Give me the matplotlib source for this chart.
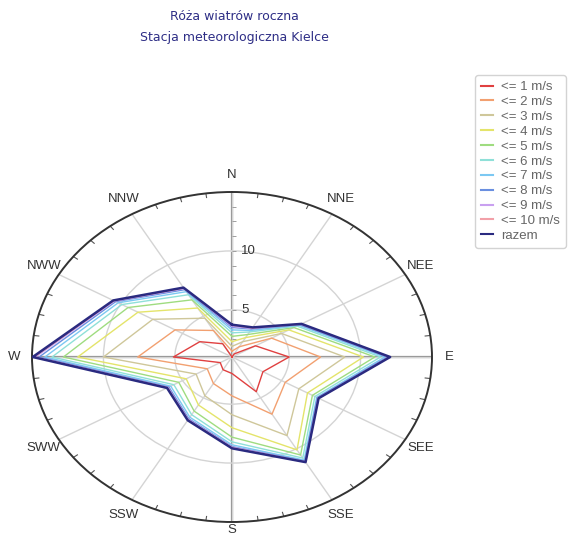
import matplotlib
matplotlib.use('Agg')
import matplotlib.pyplot as plt
import matplotlib.transforms as mtransforms
from matplotlib.lines import Line2D
import numpy as np

# kierunki co 30 stopni, od N zgodnie z ruchem wskazowek zegara
kierunki = ['N', 'NNE', 'NEE', 'E', 'SEE', 'SSE', 'S', 'SSW', 'SWW', 'W', 'NWW', 'NNW']
katy = [0, 30, 60, 90, 120, 150, 180, 210, 240, 270, 300, 330]

etykiety = ['<= 1 m/s', '<= 2 m/s', '<= 3 m/s', '<= 4 m/s', '<= 5 m/s',
            '<= 6 m/s', '<= 7 m/s', '<= 8 m/s', '<= 9 m/s', '<= 10 m/s', 'razem']

# wartosci (kolejnosc jak w "kierunki")
v1 = [1.0, 1.3, 2.9, 5.0, 3.5, 4.4, 2.4, 2.25, 1.95, 5.1, 3.6, 2.3]
v2 = [1.5, 2.0, 4.2, 7.2, 5.3, 6.6, 4.3, 3.6, 3.0, 7.6, 5.6, 3.6]
v3 = [1.9, 2.5, 5.0, 8.9, 6.4, 8.7, 5.9, 4.8, 3.9, 10.0, 7.4, 4.8]
v4 = [2.3, 2.9, 5.6, 10.2, 7.1, 10.1, 7.0, 5.7, 4.7, 11.8, 8.6, 5.8]
v5 = [2.75, 3.2, 6.0, 11.0, 7.5, 10.6, 7.8, 6.3, 5.3, 12.8, 9.4, 6.6]
v6 = [3.05, 3.45, 6.25, 11.4, 7.7, 10.9, 8.2, 6.65, 5.7, 13.6, 9.9, 7.1]
v7 = [3.3, 3.6, 6.4, 11.7, 7.85, 11.1, 8.45, 6.9, 5.95, 14.1, 10.2, 7.4]
v8 = [3.5, 3.75, 6.5, 11.9, 7.9, 11.2, 8.6, 7.05, 6.1, 14.5, 10.4, 7.6]
v9 = [3.6, 3.8, 6.55, 12.0, 7.95, 11.25, 8.65, 7.12, 6.17, 14.75, 10.5, 7.7]
v10 = [3.7, 3.85, 6.6, 12.05, 8.0, 11.3, 8.7, 7.17, 6.22, 14.85, 10.55, 7.75]
razem = [3.74, 3.9, 6.62, 12.07, 8.0, 11.3, 8.75, 7.2, 6.25, 14.95, 10.6, 7.8]

serie = [v1, v2, v3, v4, v5, v6, v7, v8, v9, v10, razem]
kolory = ['#e04040', '#f2a070', '#cfc79a', '#e4e46a', '#9fdc80',
          '#8fe0d8', '#7cc8f2', '#6a8fe0', '#c9a0f0', '#f2a0a8', '#2a2a80']
grubosci = [1.0] * 10 + [1.8]

fig = plt.figure(figsize=(5.76, 5.38), dpi=100)
ax = fig.add_axes([32 / 576, 16 / 538, 400 / 576, 330 / 538], projection='polar')
ax.set_theta_zero_location('N')
ax.set_theta_direction(-1)
ax.set_aspect('auto')
ax.set_ylim(1, 15)

# siatka (etykieta S osobno, zeby nie wypadla za dolna krawedz)
ax.set_thetagrids(katy, [k if k != 'S' else '' for k in kierunki],
                  fontsize=9.5, color='#333333', family='Liberation Sans')
ax.tick_params(axis='x', pad=2)
ax.set_rgrids([5, 10, 15], labels=['', '', ''])
ax.xaxis.grid(True, color='#d4d4d4', lw=1.0)
ax.yaxis.grid(True, color='#d4d4d4', lw=1.0)
ax.spines['polar'].set_color('#333333')
ax.spines['polar'].set_linewidth(1.4)

off_s = mtransforms.offset_copy(ax.transData, fig=fig, x=0, y=-2, units='dots')
ax.text(np.pi, 15, 'S', transform=off_s, ha='center', va='top',
        fontsize=9.5, color='#333333', family='Liberation Sans')

# glowne osie N-S i E-W
for k in [0, 90, 180, 270]:
    ax.plot([np.radians(k)] * 2, [1, 15], color='#8c8c8c', lw=1.6, zorder=1)

# drobne znaczniki na obwodzie
male = [np.radians(a) for a in np.arange(0, 360, 7.5) if a % 30 != 0]
ax.vlines(male, 14.6, 15, color='#555555', lw=0.8)
# znaczniki na osi N
rt = np.arange(2.5, 15, 1.25)
ax.plot(np.zeros(len(rt)), rt, ls='none', marker=1,
        ms=3, color='#a0a0a0', mew=0.7)

# etykiety promienia
off = mtransforms.offset_copy(ax.transData, fig=fig, x=9, y=0, units='dots')
for r in [5, 10]:
    ax.text(0, r, str(r), transform=off, ha='left', va='center',
            fontsize=9.5, color='#333333', family='Liberation Sans')

# serie
th = np.radians(katy + [katy[0]])
for vals, col, lw, lab in zip(serie, kolory, grubosci, etykiety):
    ax.plot(th, vals + [vals[0]], color=col, lw=lw, label=lab, zorder=3)

ax.set_yticklabels([])

fig.text(234 / 576, 1 - 17 / 538, 'Róża wiatrów roczna', ha='center', va='center',
         fontsize=9, color='#2e2e86')
fig.text(234 / 576, 1 - 38 / 538, 'Stacja meteorologiczna Kielce', ha='center', va='center',
         fontsize=9, color='#2e2e86')

uchwyty = [Line2D([0], [0], color=c, lw=1.5) for c in kolory]
leg = fig.legend(uchwyty, etykiety, loc='upper left',
                 bbox_to_anchor=(475 / 576, 1 - 75 / 538),
                 frameon=True, fancybox=True, edgecolor='#c8c8c8',
                 handlelength=0.9, handletextpad=0.6, labelspacing=0.2,
                 borderpad=0.45, borderaxespad=0,
                 prop={'family': 'Liberation Sans', 'size': 9.5})
for t in leg.get_texts():
    t.set_color('#666666')

fig.savefig('out.png', dpi=100)
